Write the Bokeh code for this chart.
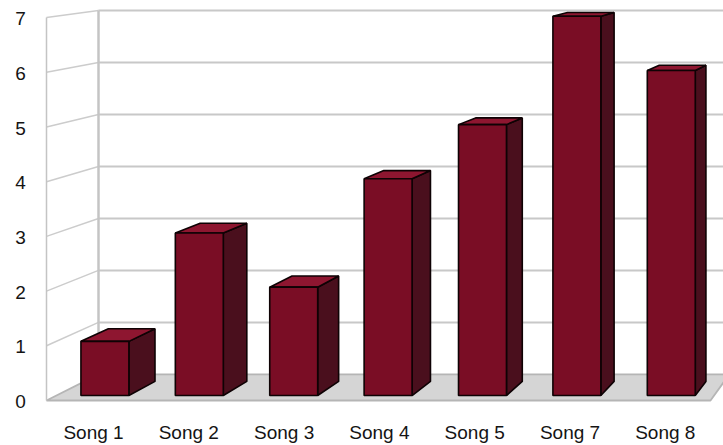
from bokeh.plotting import figure
from bokeh.models import Range1d
from bokeh.embed import file_html
from bokeh.resources import INLINE
from bokeh.core.properties import value

# ---- data ----
categories = ["Song 1", "Song 2", "Song 3", "Song 4", "Song 5", "Song 7", "Song 8"]
plays = [1, 3, 2, 4, 5, 7, 6]
y_ticks = [0, 1, 2, 3, 4, 5, 6, 7]
y_tick_labels = ["0", "1", "2", "3", "4", "5", "6", "7"]

# ---- geometry (front plane: 1 category = UX px, 1 value unit = UY px) ----
W, H = 723, 445
UX, UY = 95.3, 54.7
X0_PX, Y0_PX = 95.0, 400.0
VP_PX = (1086.0, -123.0)          # vanishing point (screen px)
vx = (VP_PX[0] - X0_PX) / UX
vy = (Y0_PX - VP_PX[1]) / UY
S_FRONT, S_BAR_FRONT, S_BAR_BACK, S_BACK = 1.0, 0.9905, 0.9635, 0.95
HW = 0.254
WALL_X = (46 - X0_PX) / UX
FLOOR_RIGHT = (710 - X0_PX) / UX
FAR_RIGHT = 9.0
YMAX = y_ticks[-1]


def proj(x, y, s):
    return vx + (x - vx) * s, vy + (y - vy) * s


def poly(pts):
    xs, ys = zip(*[proj(*p) for p in pts])
    return list(xs), list(ys)


p = figure(width=W, height=H, output_backend="svg", toolbar_location=None,
           x_range=Range1d(-X0_PX / UX, (W - X0_PX) / UX),
           y_range=Range1d(-(H - Y0_PX) / UY, Y0_PX / UY),
           x_axis_type=None, y_axis_type=None, min_border=0)
p.grid.visible = False
p.outline_line_color = None
p.background_fill_color = "white"

# floor
fx, fy = poly([(WALL_X, 0, S_FRONT), (FLOOR_RIGHT, 0, S_FRONT),
               (FLOOR_RIGHT, 0, S_BACK), (WALL_X, 0, S_BACK)])
p.patch(fx, fy, fill_color="#d5d5d5", line_color="#b5b5b5", line_width=1.8)

# back wall gridlines
gx, gy = [], []
for t in y_ticks[1:]:
    a = proj(WALL_X, t, S_BACK)
    b = proj(FAR_RIGHT, t, S_BACK)
    gx.append([a[0], b[0]]); gy.append([a[1], b[1]])
p.multi_line(gx, gy, line_color="#c8c8c8", line_width=2)

# side wall gridlines
sx, sy = [], []
for t in y_ticks[1:]:
    a = proj(WALL_X, t, S_FRONT)
    b = proj(WALL_X, t, S_BACK)
    sx.append([a[0], b[0]]); sy.append([a[1], b[1]])
p.multi_line(sx, sy, line_color="#cccccc", line_width=1.5)

# wall verticals
v1 = [proj(WALL_X, 0, S_FRONT), proj(WALL_X, YMAX, S_FRONT)]
v2 = [proj(WALL_X, 0, S_BACK), proj(WALL_X, YMAX, S_BACK)]
p.line([q[0] for q in v1], [q[1] for q in v1], line_color="#c4c4c4", line_width=1.5)
p.line([q[0] for q in v2], [q[1] for q in v2], line_color="#c4c4c4", line_width=2.5)

# bars
front_x, front_y, side_x, side_y, top_x, top_y = [], [], [], [], [], []
for i, v in enumerate(plays):
    l, r = i - HW, i + HW
    a, b = poly([(l, 0, S_BAR_FRONT), (r, 0, S_BAR_FRONT), (r, v, S_BAR_FRONT), (l, v, S_BAR_FRONT)])
    front_x.append(a); front_y.append(b)
    a, b = poly([(r, 0, S_BAR_FRONT), (r, 0, S_BAR_BACK), (r, v, S_BAR_BACK), (r, v, S_BAR_FRONT)])
    side_x.append(a); side_y.append(b)
    a, b = poly([(l, v, S_BAR_FRONT), (r, v, S_BAR_FRONT), (r, v, S_BAR_BACK), (l, v, S_BAR_BACK)])
    top_x.append(a); top_y.append(b)

p.patches(side_x, side_y, fill_color="#4a0f1d", line_color="#0e0204", line_width=1.6)
p.patches(top_x, top_y, fill_color="#8e1630", line_color="#0e0204", line_width=1.6)
p.patches(front_x, front_y, fill_color="#7a0d25", line_color="#0e0204", line_width=1.6)

# y tick labels
p.text(x=[(20 - X0_PX) / UX] * len(y_ticks), y=[t - 1.0 / UY for t in y_ticks], text=y_tick_labels,
       text_font=value("Liberation Sans"), text_font_size="19px", text_color="#141414",
       text_align="center", text_baseline="middle")

# category labels
p.text(x=list(range(len(categories))), y=[(Y0_PX - 432) / UY] * len(categories), text=categories,
       x_offset=-2, text_font=value("Liberation Sans"), text_font_size="19px", text_color="#141414",
       text_align="center", text_baseline="middle")

open("out.html", "w").write(file_html(p, INLINE))
